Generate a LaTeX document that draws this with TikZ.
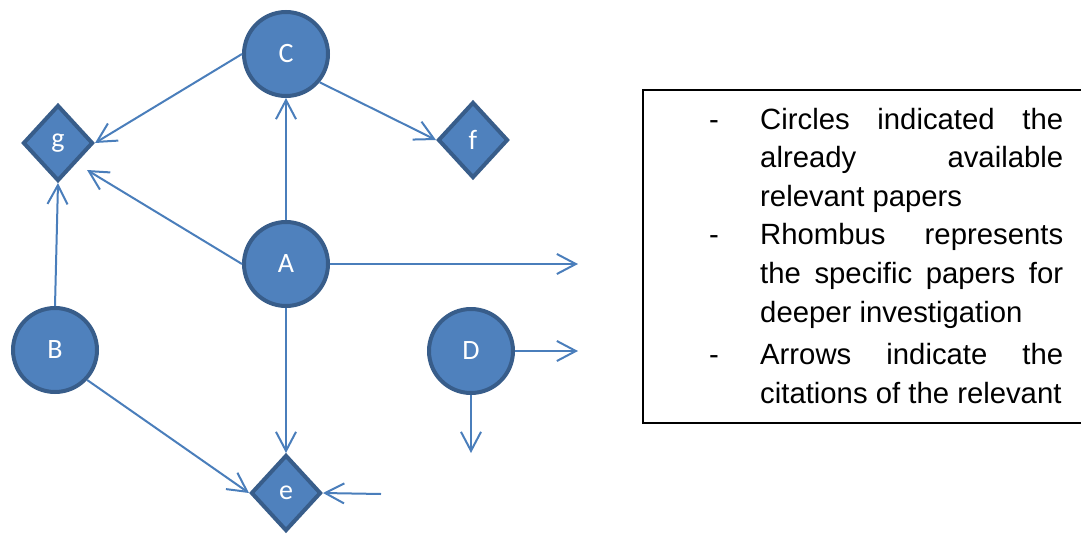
\documentclass[tikz,border=0pt]{standalone}
\usepackage{fontspec}
\newfontfamily\arialf{Liberation Sans}
\newfontfamily\calf{Carlito}
\usetikzlibrary{shapes.geometric,arrows.meta,calc}
\definecolor{nodefill}{HTML}{4F81BD}
\definecolor{nodeedge}{HTML}{385D8A}
\definecolor{arrowcol}{HTML}{4A7EBB}
\begin{document}
\begin{tikzpicture}[x=1pt,y=-1pt,
  paper/.style={circle, draw=nodeedge, fill=nodefill, line width=4pt,
    minimum size=84pt, inner sep=0pt, text=white,
    font=\calf\fontsize{28}{30}\selectfont},
  rhomb/.style={diamond, draw=nodeedge, fill=nodefill, line width=4pt,
    minimum width=70pt, minimum height=76pt, inner sep=0pt, text=white,
    font=\calf\fontsize{28}{30}\selectfont},
  cite/.style={draw=arrowcol, line width=2pt,
    -{Straight Barb[length=19pt,width=20pt]}}]
\useasboundingbox (0,0) rectangle (1081,533);
% nodes
\node[paper] (C) at (286,54) {C};
\node[paper] (A) at (286,264) {A};
\node[paper] (B) at (55,350) {B};
\node[paper] (D) at (471,351) {D};
\node[rhomb] (g) at (58,143) {g};
\node[rhomb] (f) at (473,140) {f};
\node[rhomb] (e) at (286,493) {e};
\coordinate (a1) at (578,264);
\coordinate (d1) at (578,351);
\coordinate (d2) at (471,453);
\coordinate (e1) at (381,494);
% connectors
\draw[cite] (C.west) -- (g.east);
\draw[cite] (A.north) -- (C.south);
\draw[cite] (C.-40) -- (f.west);
\draw[cite] (A.west) -- ($(g.center)+(29,27)$);
\draw[cite] (B.north) -- (g.south);
\draw[cite] (A.east) -- (a1);
\draw[cite] (A.south) -- (e.north);
\draw[cite] (B.-43) -- (e.west);
\draw[cite] (e1) -- (e.east);
\draw[cite] (D.east) -- (d1);
\draw[cite] (D.south) -- (d2);
% legend
\draw[line width=1.3pt] (1090,90) -- (643,90) -- (643,423) -- (1090,423);
\node[anchor=north west, inner sep=0pt, text width=354pt, align=justify,
  font=\arialf\fontsize{29.3}{38.6}\selectfont] (legend) at (709,107.6) {%
\noindent\hangindent=51pt\hangafter=1\makebox[51pt][l]{-}Circles indicated the\linebreak already available\linebreak relevant papers\par
\noindent\hangindent=51pt\hangafter=1\makebox[51pt][l]{-}Rhombus represents\linebreak the specific papers for\linebreak deeper investigation\par
\vspace{4pt}
\noindent\hangindent=51pt\hangafter=1\makebox[51pt][l]{-}Arrows indicate the\linebreak citations of the relevant\par};
\end{tikzpicture}
\end{document}
